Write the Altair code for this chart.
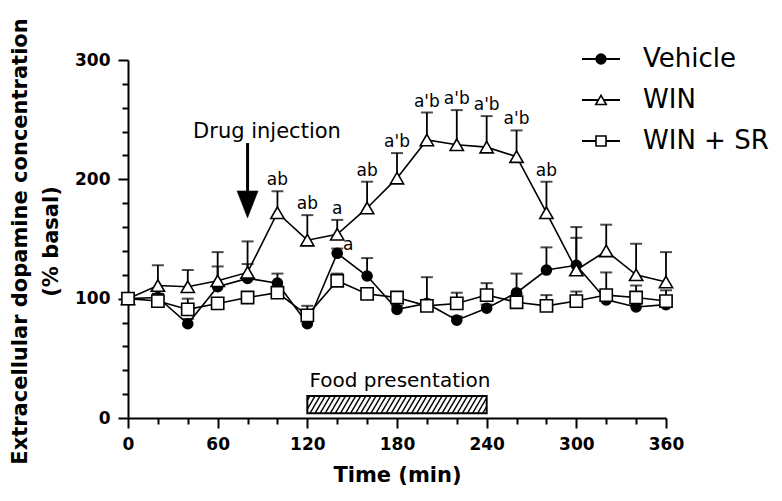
import altair as alt
import numpy as np
import pandas as pd

# ---------------- data ----------------
time_min = list(range(0, 361, 20))

vehicle_mean  = [100, 101, 79, 110, 117, 113, 79, 138, 119, 91, 96, 82, 92, 105, 124, 128, 99, 93, 95]
vehicle_upper = [100, 104, 83, 127, 129, 121, 82, 142, 134, 94, 99, 85, 95, 121, 143, 151, 122, 96, 98]

win_mean  = [100, 111, 110, 115, 122, 172, 149, 154, 176, 201, 233, 229, 227, 219, 172, 124, 140, 120, 114]
win_upper = [100, 128, 124, 139, 148, 190, 170, 166, 198, 222, 256, 258, 253, 241, 198, 160, 162, 146, 139]

winsr_mean  = [100, 98, 91, 96, 101, 105, 86, 115, 104, 101, 94, 96, 103, 97, 94, 98, 103, 101, 98]
winsr_upper = [100, 104, 100, 100, 104, 107, 94, 121, 108, 104, 118, 105, 113, 104, 103, 106, 106, 111, 107]

series_names = ["Vehicle", "WIN", "WIN + SR"]

win_letter_times = [100, 120, 140, 160, 180, 200, 220, 240, 260, 280]
win_letters = ["ab", "ab", "a", "ab", "a'b", "a'b", "a'b", "a'b", "a'b", "ab"]
vehicle_letter_times = [140]
vehicle_letters = ["a"]

drug_time = 80
food_start, food_end = 120, 240

x_tick_values = list(range(0, 361, 20))
y_tick_values = list(range(0, 301, 20))

# ---------------- layout / style ----------------
W, H = 538, 358
FONT = "DejaVu Sans"

xs = alt.Scale(domain=[0, 360], nice=False, zero=False)
ys = alt.Scale(domain=[0, 300], nice=False, zero=False)

x_axis = alt.Axis(
    values=x_tick_values,
    labelExpr="datum.value % 60 === 0 ? datum.label : ''",
    tickSize={"condition": {"test": "datum.value % 60 === 0", "value": 10}, "value": 6},
    labelPadding=8, labelFlush=False, labelOverlap=False,
    title="Time (min)", titlePadding=12,
)
y_axis = alt.Axis(
    values=y_tick_values,
    labelExpr="datum.value % 100 === 0 ? datum.label : ''",
    tickSize={"condition": {"test": "datum.value % 100 === 0", "value": 10}, "value": 6},
    labelPadding=8, labelFlush=False, labelOverlap=False,
    title=["Extracellular dopamine concentration", "(% basal)"],
    titleAngle=270, titleAlign="center", titleBaseline="alphabetic",
    titleX=-102, titleY=181, titleLineHeight=31,
)


def X(field):
    return alt.X(field, scale=xs, axis=x_axis)


def Y(field):
    return alt.Y(field, scale=ys, axis=y_axis)


def sdf(mean, upper):
    return pd.DataFrame({"t": time_min, "v": mean, "upper": upper})


dfs = [sdf(vehicle_mean, vehicle_upper), sdf(win_mean, win_upper), sdf(winsr_mean, winsr_upper)]
marker_style = [
    dict(shape="circle", fill="black", size=100),
    dict(shape="triangle-up", fill="white", size=175),
    dict(shape="square", fill="white", size=150),
]

layers = []

# error bars (upper only)
for df in dfs:
    eb = df[df["upper"] > df["v"] + 0.5]
    layers.append(alt.Chart(eb).mark_rule(color="black", strokeWidth=1.8).encode(
        x=X("t:Q"), y=Y("v:Q"), y2="upper:Q"))
    layers.append(alt.Chart(eb).mark_tick(color="black", orient="horizontal", size=12, thickness=2).encode(
        x=X("t:Q"), y=Y("upper:Q")))

# lines
for df in dfs:
    layers.append(alt.Chart(df).mark_line(color="black", strokeWidth=1.6).encode(x=X("t:Q"), y=Y("v:Q")))

# markers
for df, st in zip(dfs, marker_style):
    layers.append(alt.Chart(df).mark_point(
        shape=st["shape"], filled=True, fill=st["fill"], stroke="black", strokeWidth=1.6,
        size=st["size"], opacity=1).encode(x=X("t:Q"), y=Y("v:Q")))

# significance letters
win_lab = pd.DataFrame({"t": win_letter_times, "lab": win_letters,
                        "y": [win_upper[time_min.index(t)] for t in win_letter_times]})
layers.append(alt.Chart(win_lab).mark_text(font=FONT, fontSize=17, color="black",
                                           baseline="alphabetic", dy=-6).encode(
    x=X("t:Q"), y=Y("y:Q"), text="lab:N"))
veh_lab = pd.DataFrame({"t": vehicle_letter_times, "lab": vehicle_letters,
                        "y": [vehicle_mean[time_min.index(t)] for t in vehicle_letter_times]})
layers.append(alt.Chart(veh_lab).mark_text(font=FONT, fontSize=17, color="black",
                                           baseline="alphabetic", dx=11, dy=-3).encode(
    x=X("t:Q"), y=Y("y:Q"), text="lab:N"))

# drug injection arrow
arrow = pd.DataFrame({"t": [drug_time], "top": [230.4], "bot": [190.0], "head": [179.0],
                      "txt_t": [93.0], "txt_y": [234.4], "txt": ["Drug injection"]})
layers.append(alt.Chart(arrow).mark_rule(color="black", strokeWidth=3).encode(
    x=X("t:Q"), y=Y("top:Q"), y2="bot:Q"))
layers.append(alt.Chart(arrow).mark_point(shape="M-0.78,-1L0.78,-1L0,1Z", filled=True, fill="black",
                                          stroke="black", strokeWidth=0.5, size=729, opacity=1).encode(
    x=X("t:Q"), y=Y("head:Q")))
layers.append(alt.Chart(arrow).mark_text(font=FONT, fontSize=21, color="black", baseline="alphabetic").encode(
    x=X("txt_t:Q"), y=Y("txt_y:Q"), text="txt:N"))

# food presentation hatched bar
bar_lo, bar_hi = 4.0, 18.4
food = pd.DataFrame({"s": [food_start], "e": [food_end], "lo": [bar_lo], "hi": [bar_hi],
                     "txt_t": [182.0], "txt_y": [25.7], "txt": ["Food presentation"]})
step, slant = 3.4, 6.7
hx0, hx1, hy0, hy1 = [], [], [], []
for s in np.arange(food_start - slant + step / 2, food_end, step):
    x0, x1, y0, y1 = s, s + slant, bar_lo, bar_hi
    if x0 < food_start:
        y0 = bar_lo + (food_start - s) / slant * (bar_hi - bar_lo)
        x0 = food_start
    if x1 > food_end:
        y1 = bar_lo + (food_end - s) / slant * (bar_hi - bar_lo)
        x1 = food_end
    hx0.append(x0); hx1.append(x1); hy0.append(y0); hy1.append(y1)
hatch = pd.DataFrame({"hx0": hx0, "hx1": hx1, "hy0": hy0, "hy1": hy1})
layers.append(alt.Chart(food).mark_rect(fill="white", stroke=None).encode(
    x=X("s:Q"), x2="e:Q", y=Y("lo:Q"), y2="hi:Q"))
layers.append(alt.Chart(hatch).mark_rule(color="black", strokeWidth=1.4).encode(
    x=X("hx0:Q"), x2="hx1:Q", y=Y("hy0:Q"), y2="hy1:Q"))
layers.append(alt.Chart(food).mark_rect(fill=None, stroke="black", strokeWidth=2).encode(
    x=X("s:Q"), x2="e:Q", y=Y("lo:Q"), y2="hi:Q"))
layers.append(alt.Chart(food).mark_text(font=FONT, fontSize=20, color="black", baseline="alphabetic").encode(
    x=X("txt_t:Q"), y=Y("txt_y:Q"), text="txt:N"))

# legend (manual, pixel placement)
one = pd.DataFrame({"k": [0]})
leg_rows = [-1, 40, 81]
leg_style = [
    dict(shape="circle", fill="black", size=95),
    dict(shape="triangle-up", fill="white", size=110),
    dict(shape="square", fill="white", size=100),
]
for name, ry, st in zip(series_names, leg_rows, leg_style):
    layers.append(alt.Chart(one).mark_rule(color="black", strokeWidth=2).encode(
        x=alt.value(454), x2=alt.value(492), y=alt.value(ry)))
    layers.append(alt.Chart(one).mark_point(shape=st["shape"], filled=True, fill=st["fill"], stroke="black",
                                            strokeWidth=1.6, size=st["size"], opacity=1).encode(
        x=alt.value(473), y=alt.value(ry)))
    layers.append(alt.Chart(one).mark_text(font=FONT, fontSize=26, color="black", align="left",
                                           baseline="middle", text=name).encode(
        x=alt.value(515), y=alt.value(ry)))

chart = alt.layer(*layers).properties(
    width=W, height=H,
    autosize=alt.AutoSizeParams(type="none"),
    padding={"left": 120, "top": 52, "right": 106, "bottom": 73},
    background="white",
).configure_axis(
    grid=False, domainColor="black", domainWidth=2, tickColor="black", tickWidth=2,
    labelFont=FONT, labelFontSize=17, labelFontWeight="bold", labelColor="black",
    titleFont=FONT, titleFontSize=21, titleFontWeight="bold", titleColor="black",
).configure_view(stroke=None)

chart.save("out.html", embed_options={"renderer": "svg", "actions": False})
